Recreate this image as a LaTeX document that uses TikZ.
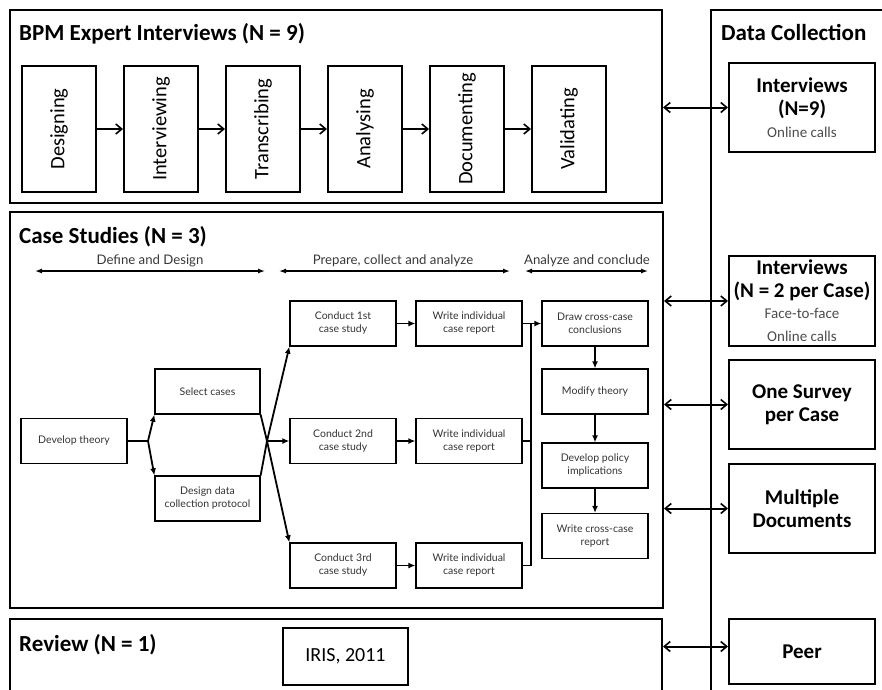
\documentclass[tikz,border=0pt]{standalone}
\usepackage{fontspec}
\setmainfont{Carlito}
\newfontfamily\gill{Lato}
\usetikzlibrary{arrows.meta}
\begin{document}
\begin{tikzpicture}[x=1pt,y=-1pt,
  panel/.style={draw, line width=2pt, inner sep=0pt},
  paneltitle/.style={anchor=base west, inner sep=0pt, font=\fontsize{23}{26}\selectfont\bfseries},
  stepbox/.style={draw, line width=2pt, minimum width=74pt, minimum height=126pt, inner sep=0pt, font=\fontsize{20.5}{24}\selectfont},
  stepar/.style={line width=2pt, -{Straight Barb[length=6pt,width=10pt,line width=1.6pt]}},
  databox/.style={draw, line width=2pt, minimum width=146pt, inner sep=0pt, align=center, font=\fontsize{21}{23}\selectfont\bfseries},
  dataar/.style={line width=2pt, {Straight Barb[length=6pt,width=10pt,line width=1.6pt]}-{Straight Barb[length=6pt,width=10pt,line width=1.6pt]}},
  cbox/.style={draw, line width=1.3pt, minimum width=106pt, minimum height=45pt, inner sep=0pt, align=center, text=black!80, font=\gill\fontsize{10.5}{13}\selectfont},
  car/.style={line width=1.8pt, -{Latex[length=7pt,width=6pt]}},
  cline/.style={line width=1.8pt},
  phase/.style={inner sep=0pt, text=black!78, font=\gill\fontsize{13.2}{15}\selectfont},
  phasear/.style={line width=1.3pt, {Latex[length=7pt,width=5pt]}-{Latex[length=7pt,width=5pt]}}
]
\useasboundingbox (0,0) rectangle (882,689);
\clip (0,0) rectangle (882,689);

% ---------- panels ----------
\node[panel, minimum width=652pt, minimum height=193pt] (bpm) at (336,106.5) {};
\node[panel, minimum width=653pt, minimum height=396pt] (cs) at (336.5,410) {};
\node[panel, minimum width=652pt, minimum height=141pt] (rev) at (336,689.5) {};
\node[panel, minimum width=240pt, minimum height=760pt] (dc) at (831,390) {};

\node[paneltitle] (tbpm) at (19,40) {BPM Expert Interviews (N = 9)};
\node[paneltitle] (tcs) at (19,243) {Case Studies (N = 3)};
\node[paneltitle] (trev) at (19,651) {Review (N = 1)};
\node[paneltitle] (tdc) at (721,40) {Data Collection};

% ---------- BPM steps ----------
\node[stepbox] (s1) at (59,129) {\rotatebox{90}{Designing}};
\node[stepbox] (s2) at (161,129) {\rotatebox{90}{Interviewing}};
\node[stepbox] (s3) at (263,129) {\rotatebox{90}{Transcribing}};
\node[stepbox] (s4) at (365,129) {\rotatebox{90}{Analysing}};
\node[stepbox] (s5) at (467,129) {\rotatebox{90}{Documenting}};
\node[stepbox] (s6) at (569,129) {\rotatebox{90}{Validating}};
\foreach \a/\b in {s1/s2,s2/s3,s3/s4,s4/s5,s5/s6}
  \draw[stepar] (\a.east) -- (\b.west);

% ---------- Data collection boxes ----------
\node[databox, minimum height=89pt] (d1) at (802,107.5) {Interviews\\(N=9)\\[-1pt]\fontsize{15}{17}\selectfont\mdseries\color{black!70}Online calls};
\node[databox, minimum height=90pt] (d2) at (802,301) {Interviews\\(N = 2 per Case)\\[-2pt]\fontsize{15}{17}\selectfont\mdseries\color{black!70}Face-to-face\\\fontsize{15}{17}\selectfont\mdseries\color{black!70}Online calls};
\node[databox, minimum height=89pt] (d3) at (802,404.5) {One Survey\\per Case};
\node[databox, minimum height=89pt] (d4) at (802,508.5) {Multiple\\Documents};
\node[databox, minimum height=65pt] (d5) at (802,651.5) {Peer};

\draw[dataar] (d1.west -| bpm.east) -- (d1.west);
\draw[dataar] (d2.west -| cs.east) -- (d2.west);
\draw[dataar] (d3.west -| cs.east) -- (d3.west);
\draw[dataar] (d4.west -| cs.east) -- (d4.west);
\draw[dataar] ([yshift=5pt]d5.west -| rev.east) -- ([yshift=5pt]d5.west);

% ---------- Review ----------
\node[draw, line width=1.6pt, minimum width=125pt, minimum height=57pt, inner sep=0pt, font=\fontsize{20}{24}\selectfont] (iris) at (345.5,656.5) {IRIS, 2011};

% ---------- Case study phases ----------
\node[phase] (p1) at (150,261) {Define and Design};
\node[phase] (p2) at (393,261) {Prepare, collect and analyze};
\node[phase] (p3) at (587,261) {Analyze and conclude};
\coordinate (p1a) at (35,271); \coordinate (p1b) at (265,271);
\coordinate (p2a) at (279,271); \coordinate (p2b) at (510,271);
\coordinate (p3a) at (525,271); \coordinate (p3b) at (648,271);
\draw[phasear] (p1a) -- (p1b);
\draw[phasear] (p2a) -- (p2b);
\draw[phasear] (p3a) -- (p3b);

% ---------- Case study boxes ----------
\node[cbox] (dev) at (74,441) {Develop theory};
\node[cbox, minimum width=105pt] (sel) at (207.5,391.5) {Select cases};
\node[cbox, minimum width=105pt] (des) at (207.5,498.5) {Design data\\collection protocol};
\node[cbox] (c1) at (343,323.5) {Conduct 1st\\case study};
\node[cbox] (c2) at (343,441) {Conduct 2nd\\case study};
\node[cbox] (c3) at (343,565.5) {Conduct 3rd\\case study};
\node[cbox] (w1) at (469,323.5) {Write individual\\case report};
\node[cbox] (w2) at (469,441) {Write individual\\case report};
\node[cbox] (w3) at (469,565.5) {Write individual\\case report};
\node[cbox] (dr) at (595,323.5) {Draw cross-case\\conclusions};
\node[cbox] (mt) at (595,391.5) {Modify theory};
\node[cbox] (dp) at (595,465.5) {Develop policy\\implications};
\node[cbox] (wr) at (595,536) {Write cross-case\\report};

\coordinate (b1) at (148,441);
\coordinate (m1) at (267,441);
\coordinate (cx) at (531,441);

\draw[cline] (dev.east) -- (b1);
\draw[car] (b1) -- (sel.south west);
\draw[car] (b1) -- (des.north west);
\draw[cline] (sel.south east) -- (m1) -- (des.north east);
\draw[car] (m1) -- (c1.south west);
\draw[car] (m1) -- (c2.west);
\draw[car] (m1) -- (c3.north west);
\draw[car] (c1.east) -- (w1.west);
\draw[car] (c2.east) -- (w2.west);
\draw[car] (c3.east) -- (w3.west);
\draw[cline] (w3.east) -- (cx |- w3.east) -- (cx |- w1.east);
\draw[cline] (w2.east) -- (cx |- w2.east);
\draw[car] (w1.east) -- (dr.west);
\draw[car] (dr.south) -- (mt.north);
\draw[car] (mt.south) -- (dp.north);
\draw[car] (dp.south) -- (wr.north);
\end{tikzpicture}
\end{document}
